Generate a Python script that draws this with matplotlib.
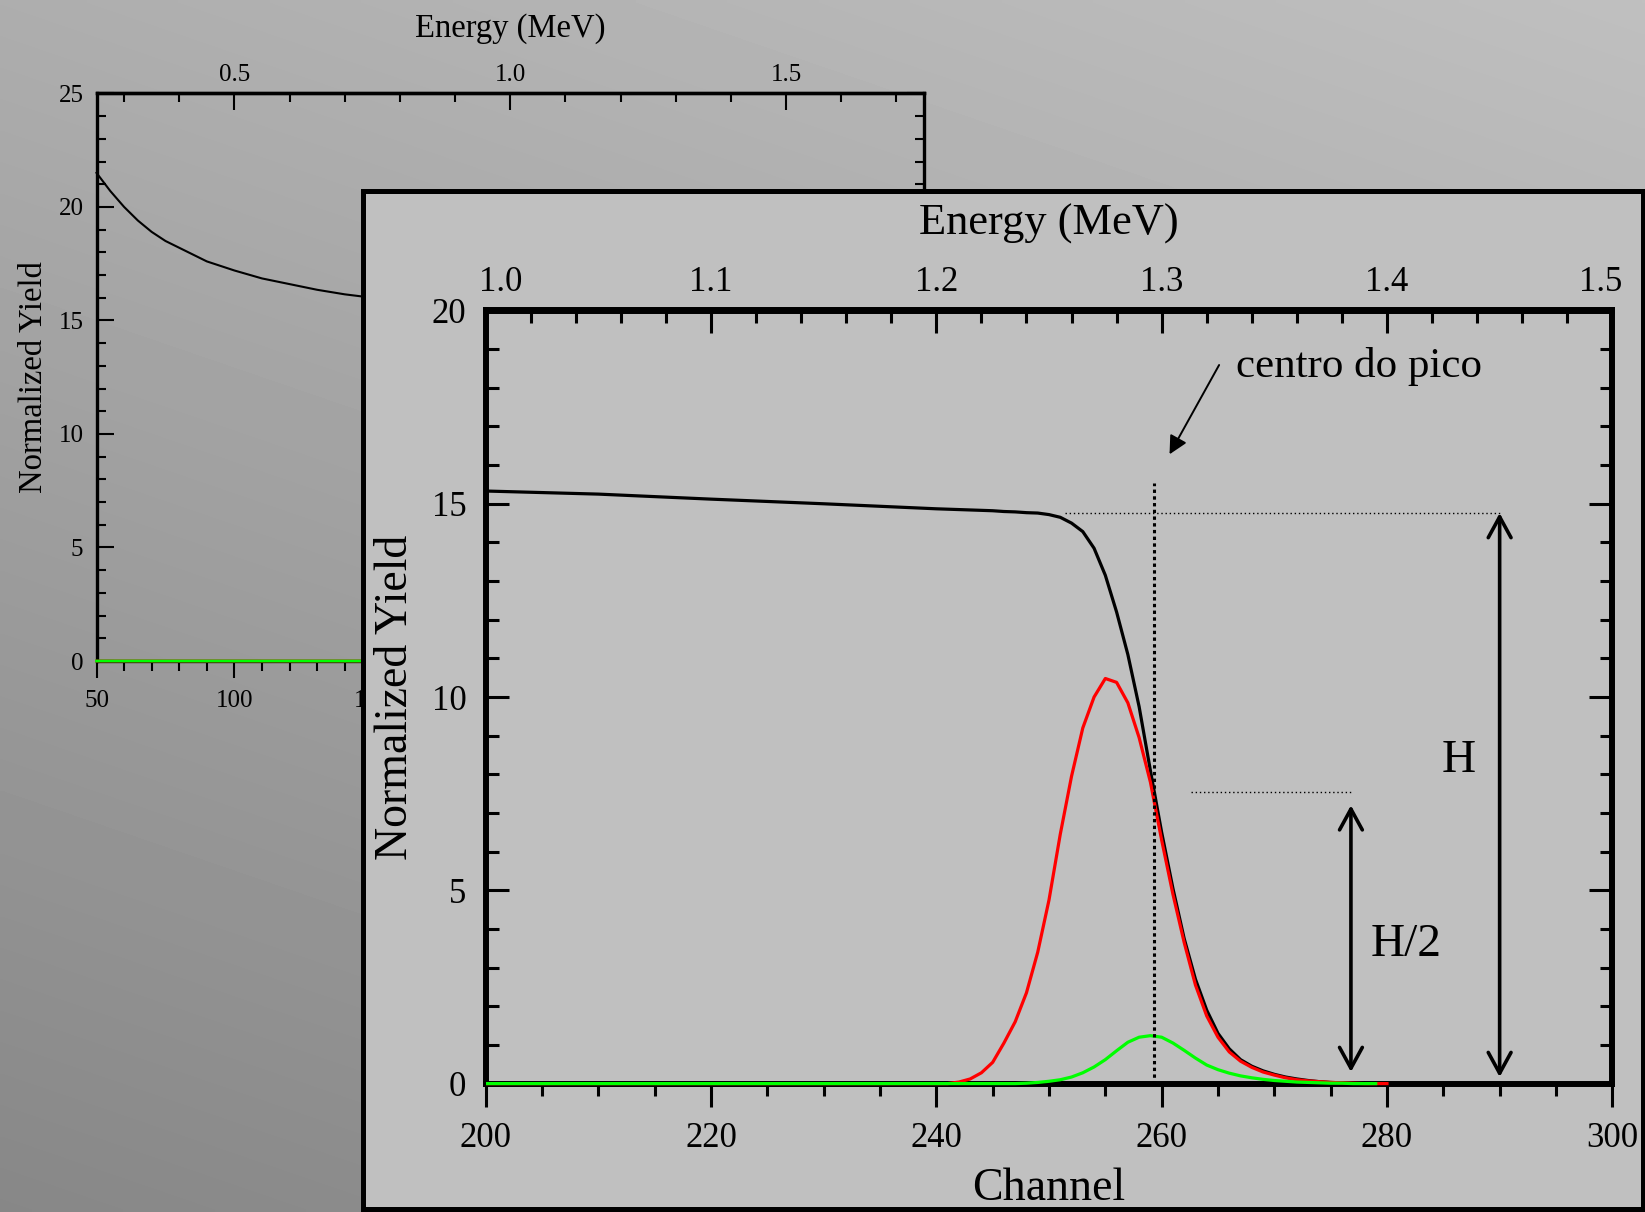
import numpy as np
import matplotlib
matplotlib.use("Agg")
import matplotlib.pyplot as plt
import matplotlib.transforms as mtransforms
from matplotlib.patches import Rectangle
from matplotlib.ticker import MultipleLocator, FuncFormatter, FormatStrFormatter

plt.rcParams["font.family"] = ["Liberation Serif", "DejaVu Serif"]

# ---------------- spectrum data ----------------
# total normalized yield (black)
yield_channel = [50, 55, 60, 65, 70, 75, 80, 90, 100, 110, 120, 130, 140, 150,
                 160, 170, 180, 190, 200, 210, 220, 230, 240,
                 245, 246, 247, 248, 249, 250, 251, 252, 253, 254, 255, 256,
                 257, 258, 259, 260, 261, 262, 263, 264, 265, 266, 267, 268,
                 269, 270, 271, 272, 273, 274, 275, 276, 277, 278, 279]
yield_total = [21.5, 20.7, 20.0, 19.4, 18.9, 18.5, 18.2, 17.6, 17.2, 16.85,
               16.6, 16.35, 16.15, 16.0, 15.85, 15.7, 15.55, 15.45, 15.33,
               15.25, 15.12, 15.0, 14.87,
               14.82, 14.80, 14.79, 14.77, 14.76, 14.72, 14.65, 14.50, 14.28,
               13.85, 13.15, 12.2, 11.1, 9.75, 8.1, 6.5, 5.05, 3.75, 2.7, 1.9,
               1.3, 0.9, 0.62, 0.45, 0.33, 0.24, 0.17, 0.12, 0.08, 0.05, 0.03,
               0.02, 0.01, 0.0, 0.0]

# surface peak (red)
red_channel = [50, 240, 241, 242, 243, 244, 245, 246, 247, 248, 249, 250,
               251, 252, 253, 254, 255, 256, 257, 258, 259, 260, 261, 262,
               263, 264, 265, 266, 267, 268, 269, 270, 271, 272, 273, 274,
               275, 276, 277, 278, 279, 280]
red_peak = [0.0, 0.0, 0.0, 0.04, 0.12, 0.28, 0.55, 1.05, 1.6, 2.35, 3.4,
            4.75, 6.45, 7.95, 9.2, 10.0, 10.48, 10.38, 9.85, 8.95, 7.8, 6.3,
            4.9, 3.65, 2.55, 1.75, 1.2, 0.82, 0.58, 0.42, 0.3, 0.22, 0.15,
            0.1, 0.07, 0.05, 0.03, 0.02, 0.01, 0.0, 0.0, 0.0]

# thin-layer peak (green)
green_channel = [50, 247, 248, 249, 250, 251, 252, 253, 254, 255, 256, 257,
                 258, 259, 260, 261, 262, 263, 264, 265, 266, 267, 268, 269,
                 270, 271, 272, 273, 274, 275, 276, 277, 278, 279]
green_peak = [0.0, 0.0, 0.01, 0.03, 0.06, 0.1, 0.17, 0.28, 0.43, 0.62, 0.85,
              1.07, 1.2, 1.24, 1.2, 1.05, 0.86, 0.66, 0.48, 0.36, 0.27, 0.2,
              0.15, 0.11, 0.08, 0.06, 0.04, 0.03, 0.02, 0.01, 0.01, 0.0, 0.0,
              0.0]

# energy calibration (MeV per channel)
mev_per_channel = 0.005

# edge construction
peak_center = 259.3          # channel of the edge centre
peak_marker_top = 15.55
plateau_height = 14.76       # H
half_height = 7.55           # H/2 guide level
h_guide = (251.4, 290.0)
half_guide = (262.6, 277.0)
h_arrow = (290.0, 0.17, 14.76)
half_arrow = (276.8, 0.30, 7.2)


def to_mev(c):
    return np.asarray(c) * mev_per_channel


def to_channel(e):
    return np.asarray(e) / mev_per_channel


FIG_W, FIG_H = 1645, 1212


def box(left, top, right, bottom):
    return [left / FIG_W, 1 - bottom / FIG_H,
            (right - left) / FIG_W, (bottom - top) / FIG_H]


fig = plt.figure(figsize=(FIG_W / 100, FIG_H / 100), dpi=100)

# ---------------- backdrop ----------------
bg = fig.add_axes([0, 0, 1, 1], zorder=0)
gx, gy = np.meshgrid(np.linspace(0, 1, 330), np.linspace(0, 1, 240))
bg.imshow(0.68 + 0.07 * gx - 0.15 * gy, cmap="gray", vmin=0, vmax=1,
          extent=(0, 1, 0, 1), origin="upper", aspect="auto",
          interpolation="bilinear")
bg.set_axis_off()

# ---------------- full spectrum (background plot) ----------------
back = fig.add_axes(box(96.5, 93.4, 924, 661), zorder=1)
back.patch.set_visible(False)
back.plot(yield_channel, yield_total, color="black", lw=1.5, zorder=3, clip_on=False)
back.plot(red_channel, red_peak, color="red", lw=2.0, zorder=3, clip_on=False)
back.plot(green_channel, green_peak, color="#00ff00", lw=2.0, zorder=3, clip_on=False)
back.set_xlim(50, 350)
back.set_ylim(0, 25)
back.xaxis.set_major_locator(MultipleLocator(50))
back.xaxis.set_minor_locator(MultipleLocator(10))
back.yaxis.set_major_locator(MultipleLocator(5))
back.yaxis.set_minor_locator(MultipleLocator(1))
for s in back.spines.values():
    s.set_linewidth(2.4)
back.tick_params(axis="y", which="both", direction="in", left=True, right=True,
                 width=1.5, labelsize=18, pad=9.4)
back.tick_params(axis="y", which="major", length=12)
back.tick_params(axis="y", which="minor", length=6.5)
back.tick_params(axis="x", which="both", direction="out", bottom=True, top=False,
                 width=1.5, labelsize=18, pad=8.9)
back.tick_params(axis="x", which="major", length=12)
back.tick_params(axis="x", which="minor", length=7)
back.set_ylabel("Normalized Yield", fontsize=23.5)
back.yaxis.label.set_va("baseline")
back.yaxis.set_label_coords(-0.0659, 0.5)
back.set_xlabel("Channel", fontsize=23.5)

back_top = back.secondary_xaxis("top", functions=(to_mev, to_channel))
back_top.xaxis.set_major_locator(MultipleLocator(0.5))
back_top.xaxis.set_minor_locator(MultipleLocator(0.1))
back_top.xaxis.set_major_formatter(FormatStrFormatter("%.1f"))
back_top.tick_params(which="both", direction="in", width=1.5, labelsize=18, pad=5.5)
back_top.tick_params(which="major", length=12)
back_top.tick_params(which="minor", length=6.5)
back_top.spines["top"].set_linewidth(2.4)
back_top.set_xlabel("Energy (MeV)", fontsize=23.5)
back_top.xaxis.label.set_va("baseline")
back_top.xaxis.set_label_coords(0.5, 1.0999, transform=back.transAxes)

# ---------------- zoom panel ----------------
panel = fig.add_axes(box(363, 190.5, 1643, 1209), zorder=2)
panel.set_facecolor("#c0c0c0")
panel.set_xticks([])
panel.set_yticks([])
for s in panel.spines.values():
    s.set_linewidth(3.6)
    s.set_color("black")

ax = fig.add_axes(box(485.7, 310.5, 1612.3, 1083.6), zorder=3)
ax.patch.set_visible(False)
# clip to the frame horizontally, but let the zero line sit fully on the axis
clip_rect = Rectangle((0, -0.02), 1, 1.04, transform=ax.transAxes,
                      facecolor="none", edgecolor="none")
for xs, ys, col, z in ((yield_channel, yield_total, "black", 3),
                       (red_channel, red_peak, "red", 3.1),
                       (green_channel, green_peak, "#00ff00", 3.2)):
    ln, = ax.plot(xs, ys, color=col, lw=2.3, zorder=z)
    ln.set_clip_path(clip_rect)
ax.set_xlim(200, 300)
ax.set_ylim(0, 20)
ax.xaxis.set_major_locator(MultipleLocator(20))
ax.xaxis.set_minor_locator(MultipleLocator(5))
ax.yaxis.set_major_locator(MultipleLocator(5))
ax.yaxis.set_minor_locator(MultipleLocator(1))
for s in ax.spines.values():
    s.set_linewidth(4.3)
ax.tick_params(axis="y", which="both", direction="in", left=True, right=True,
               width=2.2, labelsize=25, pad=13.9)
ax.tick_params(axis="y", which="major", length=16.5)
ax.tick_params(axis="y", which="minor", length=9)
ax.tick_params(axis="x", which="both", direction="out", bottom=True, top=False,
               width=2.2, labelsize=25, pad=11)
ax.tick_params(axis="x", which="major", length=16.5)
ax.tick_params(axis="x", which="minor", length=8.5)
ax.set_xlabel("Channel", fontsize=33)
ax.xaxis.label.set_va("baseline")
ax.xaxis.set_label_coords(0.5, -0.1506)
ax.set_ylabel("Normalized Yield", fontsize=33)
ax.yaxis.label.set_va("baseline")
ax.yaxis.set_label_coords(-0.0696, 0.5)

top_mev_edges = (1.0, 1.5)
ax_top = ax.secondary_xaxis("top", functions=(to_mev, to_channel))
ax_top.xaxis.set_major_locator(MultipleLocator(0.1))
ax_top.xaxis.set_minor_locator(MultipleLocator(0.02))
ax_top.xaxis.set_major_formatter(FuncFormatter(
    lambda v, p: "" if min(abs(v - e) for e in top_mev_edges) < 1e-6 else f"{v:.1f}"))
ax_top.tick_params(which="both", direction="in", width=2.2, labelsize=25, pad=8)
ax_top.tick_params(which="major", length=16.5)
ax_top.tick_params(which="minor", length=9)
ax_top.spines["top"].set_linewidth(4.3)
ax_top.set_xlabel("Energy (MeV)", fontsize=32)
ax_top.xaxis.label.set_va("baseline")
ax_top.xaxis.set_label_coords(0.5, 1.0977, transform=ax.transAxes)

# end labels of the energy scale, nudged inside the frame
edge_tf = mtransforms.blended_transform_factory(ax.transData, ax.transAxes)
for e, dx in zip(top_mev_edges, (10.8, -8.4)):
    tf = edge_tf + mtransforms.ScaledTranslation(dx / 72, 8 / 72, fig.dpi_scale_trans)
    ax.text(float(to_channel(e)), 1.0, f"{e:.1f}", transform=tf, ha="center",
            va="bottom", fontsize=25)

# edge-centre marker and height guides
ax.plot([peak_center, peak_center], [0, peak_marker_top], color="black", lw=2.2,
        ls=(0, (1.1, 1.1)), zorder=5, clip_on=False)
ax.plot(h_guide, [plateau_height, plateau_height], color="black", lw=1.0,
        ls=(0, (1, 2)), zorder=5)
ax.plot(half_guide, [half_height, half_height], color="black", lw=1.0,
        ls=(0, (1, 2)), zorder=5)

for xa, y0, y1 in (h_arrow, half_arrow):
    ax.annotate("", xy=(xa, y1), xytext=(xa, y0),
                arrowprops=dict(arrowstyle="<->,head_length=0.75,head_width=0.41",
                                lw=2.6, color="black", shrinkA=0, shrinkB=0,
                                mutation_scale=20), zorder=6)

ax.text(286.4, 8.06, "H", fontsize=34, ha="center", va="baseline")
ax.text(281.7, 3.3, "H/2", fontsize=34, ha="center", va="baseline")

ax.text(266.57, 18.28, "centro do pico", fontsize=31, ha="left", va="baseline")
ax.annotate("", xy=(260.7, 16.28), xytext=(265.1, 18.59),
            arrowprops=dict(arrowstyle="-|>,head_length=0.55,head_width=0.28",
                            lw=1.4, color="black", shrinkA=0, shrinkB=0,
                            mutation_scale=20), zorder=6)

fig.savefig("out.png", dpi=100)
